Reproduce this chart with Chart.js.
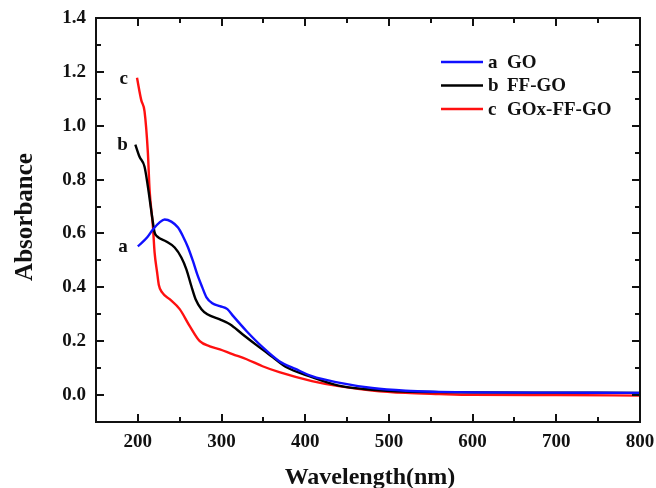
<!DOCTYPE html>
<html>
<head>
<meta charset="utf-8">
<script src="https://cdn.jsdelivr.net/npm/chart.js@4.4.1/dist/chart.umd.min.js"></script>
<style>
  html, body { margin: 0; padding: 0; background: #fff; }
  #wrap { width: 656px; height: 488px; }
</style>
</head>
<body>
<div id="wrap"><canvas id="uvChart" width="656" height="488"></canvas></div>
<script>
// wavelength (nm) / absorbance
const goX   = [200, 211, 218, 226, 232, 240, 248, 254, 260, 266, 271, 277, 282, 289, 298, 307, 314, 330, 349, 369, 389, 408, 440, 480, 520, 560, 600, 700, 800];
const goY   = [0.552, 0.585, 0.615, 0.641, 0.652, 0.644, 0.622, 0.589, 0.548, 0.496, 0.448, 0.4, 0.363, 0.341, 0.33, 0.319, 0.293, 0.237, 0.178, 0.126, 0.096, 0.07, 0.046, 0.026, 0.016, 0.012, 0.01, 0.009, 0.008];

const ffX   = [197, 202, 208, 212, 217, 220, 223, 234, 244, 252, 258, 264, 269, 276, 283, 298, 310, 325, 345, 361, 377, 408, 440, 480, 520, 560, 600, 700, 800];
const ffY   = [0.93, 0.885, 0.848, 0.774, 0.663, 0.604, 0.589, 0.57, 0.548, 0.511, 0.467, 0.404, 0.356, 0.319, 0.3, 0.281, 0.263, 0.226, 0.178, 0.141, 0.104, 0.067, 0.035, 0.02, 0.013, 0.011, 0.01, 0.009, 0.008];

const goxX  = [199, 204, 208, 212, 214, 218, 220, 223, 225, 229, 238, 250, 262, 274, 286, 298, 313, 330, 349, 369, 408, 440, 480, 520, 560, 600, 700, 800];
const goxY  = [1.178, 1.096, 1.053, 0.899, 0.763, 0.626, 0.53, 0.456, 0.41, 0.381, 0.356, 0.319, 0.256, 0.2, 0.181, 0.17, 0.152, 0.133, 0.107, 0.085, 0.052, 0.033, 0.017, 0.008, 0.004, 0.001, 0.0, -0.002];

const seriesNames = ['a  GO', 'b  FF-GO', 'c  GOx-FF-GO'];
const seriesColors = ['#1010ff', '#000000', '#ff1010'];
const curveTags = ['a', 'b', 'c'];

const yTicks = [0.0, 0.2, 0.4, 0.6, 0.8, 1.0, 1.2, 1.4];
const xTicks = [200, 300, 400, 500, 600, 700, 800];

const toPts = (xs, ys) => xs.map((x, i) => ({ x: x, y: ys[i] }));

const serif = '"Liberation Serif", "DejaVu Serif", serif';

// inward ticks on all four sides, frame, titles, legend and curve tags
const framePlugin = {
    id: 'framePlugin',
    afterDraw(chart) {
        const ctx = chart.ctx;
        const a = chart.chartArea;
        const xs = chart.scales.x, ys = chart.scales.y;
        ctx.save();
        ctx.strokeStyle = '#111';
        ctx.lineWidth = 2;
        ctx.strokeRect(a.left, a.top, a.right - a.left, a.bottom - a.top);

        for (let v = 150; v <= 800; v += 50) {
            const px = Math.round(xs.getPixelForValue(v));
            const len = v % 100 === 0 ? 8 : 5;
            ctx.beginPath();
            ctx.moveTo(px, a.bottom); ctx.lineTo(px, a.bottom - len);
            ctx.moveTo(px, a.top); ctx.lineTo(px, a.top + len);
            ctx.stroke();
        }
        for (let i = -1; i <= 14; i++) {
            const py = Math.round(ys.getPixelForValue(i / 10));
            const len = i % 2 === 0 ? 8 : 5;
            ctx.beginPath();
            ctx.moveTo(a.left, py); ctx.lineTo(a.left + len, py);
            ctx.moveTo(a.right, py); ctx.lineTo(a.right - len, py);
            ctx.stroke();
        }

        // axis titles
        ctx.fillStyle = '#111';
        ctx.font = 'bold 24px ' + serif;
        ctx.textAlign = 'center';
        ctx.textBaseline = 'alphabetic';
        ctx.fillText('Wavelength(nm)', 370, 484);
        ctx.save();
        ctx.translate(32, 217);
        ctx.rotate(-Math.PI / 2);
        ctx.font = 'bold 25px ' + serif;
        ctx.fillText('Absorbance', 0, 0);
        ctx.restore();

        // legend
        ctx.font = 'bold 19px ' + serif;
        ctx.textBaseline = 'middle';
        ctx.textAlign = 'left';
        seriesNames.forEach((name, i) => {
            const y = 62 + i * 23.5;
            ctx.strokeStyle = seriesColors[i];
            ctx.lineWidth = 2.5;
            ctx.beginPath();
            ctx.moveTo(441, y); ctx.lineTo(483, y);
            ctx.stroke();
            const parts = name.split('  ');
            ctx.fillText(parts[0], 488, y + 1);
            ctx.fillText(parts[1], 507, y + 1);
        });

        // tags next to curve starts
        const starts = [[goX[0], goY[0]], [ffX[0], ffY[0]], [goxX[0], goxY[0]]];
        ctx.textAlign = 'right';
        starts.forEach((p, i) => {
            ctx.fillText(curveTags[i], xs.getPixelForValue(200) - 10, ys.getPixelForValue(p[1]) + 1);
        });
        ctx.restore();
    }
};

const ctx = document.getElementById('uvChart').getContext('2d');

new Chart(ctx, {
    type: 'line',
    data: {
        datasets: [
            { label: seriesNames[0], data: toPts(goX, goY), borderColor: seriesColors[0] },
            { label: seriesNames[1], data: toPts(ffX, ffY), borderColor: seriesColors[1] },
            { label: seriesNames[2], data: toPts(goxX, goxY), borderColor: seriesColors[2] }
        ]
    },
    options: {
        responsive: false,
        animation: false,
        datasets: {
            line: { borderWidth: 2.4, pointRadius: 0, cubicInterpolationMode: 'monotone', fill: false }
        },
        layout: { padding: { top: 18, right: 16, left: 0, bottom: 0 } },
        scales: {
            x: {
                type: 'linear',
                min: 150,
                max: 800,
                afterFit: s => { s.height = 66; s.paddingLeft = 0; s.paddingRight = 0; },
                afterBuildTicks: s => { s.ticks = xTicks.map(v => ({ value: v })); },
                grid: { display: false, drawTicks: false },
                border: { display: false },
                ticks: {
                    padding: 9,
                    color: '#111',
                    font: { family: serif, size: 19, weight: 'bold' },
                    callback: v => String(v)
                }
            },
            y: {
                min: -0.1,
                max: 1.4,
                afterFit: s => { s.width = 96; s.paddingTop = 0; s.paddingBottom = 0; },
                afterBuildTicks: s => { s.ticks = yTicks.map(v => ({ value: v })); },
                grid: { display: false, drawTicks: false },
                border: { display: false },
                ticks: {
                    padding: 10,
                    color: '#111',
                    font: { family: serif, size: 19, weight: 'bold' },
                    callback: v => v.toFixed(1)
                }
            }
        },
        plugins: {
            legend: { display: false },
            tooltip: { enabled: false }
        }
    },
    plugins: [framePlugin]
});
</script>
</body>
</html>
